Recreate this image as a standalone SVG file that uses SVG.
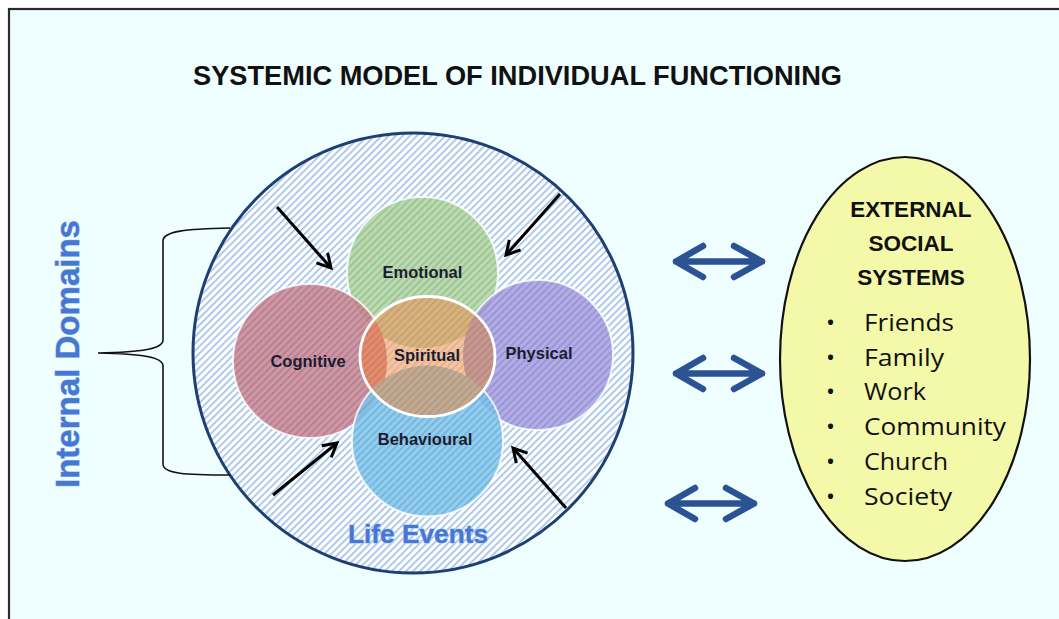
<svg xmlns="http://www.w3.org/2000/svg" width="1059" height="619" viewBox="0 0 1059 619">
  <style>
    .title { font-family: "Liberation Sans", Arial, sans-serif; font-weight: bold; font-size: 28px; fill: #111; }
    .lbl { font-family: "Liberation Sans", Arial, sans-serif; font-weight: bold; font-size: 16.5px; fill: #1c1c30; text-anchor: middle; }
    .blue { font-family: "Liberation Sans", Arial, sans-serif; font-weight: bold; fill: #4677d2; text-anchor: middle; stroke: #9fc0f0; stroke-width: 1px; paint-order: stroke; }
    .head { font-family: "Liberation Sans", Arial, sans-serif; font-weight: bold; font-size: 22.5px; fill: #111; text-anchor: middle; }
    .item { font-family: "Open Sans", "Liberation Sans", sans-serif; font-size: 24px; fill: #111; }
    .dbl { fill: none; stroke: #2b5393; stroke-width: 6.5; stroke-linecap: round; stroke-linejoin: round; }
    .inarrow { fill: none; stroke: #000; stroke-width: 3; marker-end: url(#head); }
    .outer { stroke: #ffffff; stroke-opacity: 0.8; stroke-width: 2; }
  </style>
  <defs>
    <pattern id="bgHatch" width="5" height="5" patternUnits="userSpaceOnUse" patternTransform="rotate(45)">
      <rect width="5" height="5" fill="#ffffff"/>
      <rect width="1.8" height="5" fill="#a6c5ea"/>
    </pattern>
    <pattern id="darkHatch" width="5" height="5" patternUnits="userSpaceOnUse" patternTransform="rotate(45)">
      <rect width="1.6" height="5" fill="#000" fill-opacity="0.1"/>
    </pattern>
    <marker id="head" markerUnits="userSpaceOnUse" markerWidth="22" markerHeight="22" refX="15" refY="9" orient="auto">
      <path d="M1.5,1.5 L15,9 L1.5,16.5" fill="none" stroke="#000" stroke-width="3" stroke-linejoin="miter"/>
    </marker>
    <clipPath id="spClip">
      <ellipse cx="427.5" cy="356.5" rx="67.5" ry="60"/>
    </clipPath>
  </defs>

  <rect x="0" y="0" width="1059" height="619" fill="#ffffff"/>
  <rect id="frame" x="9" y="9" width="1100" height="700" fill="#effefe" stroke="#2b2b2b" stroke-width="2.2"/>

  <g id="title">
    <text class="title" x="193" y="85" textLength="649" lengthAdjust="spacingAndGlyphs">SYSTEMIC MODEL OF INDIVIDUAL FUNCTIONING</text>
  </g>

  <g id="life-events">
    <circle cx="413" cy="353" r="220" fill="url(#bgHatch)" stroke="#1e3f73" stroke-width="3"/>
  </g>

  <g id="domain-circles">
    <g id="emotional">
      <circle cx="422.5" cy="272.5" r="75.5" fill="#b0d6a0" fill-opacity="0.88"/>
      <circle cx="422.5" cy="272.5" r="75.5" fill="url(#darkHatch)" class="outer"/>
    </g>
    <g id="cognitive">
      <circle cx="310" cy="361" r="77" fill="#c98493" fill-opacity="0.85"/>
      <circle cx="310" cy="361" r="77" fill="url(#darkHatch)" class="outer"/>
    </g>
    <g id="physical">
      <circle cx="538" cy="355" r="75" fill="#a69de4" fill-opacity="0.85"/>
      <circle cx="538" cy="355" r="75" fill="url(#darkHatch)" class="outer"/>
    </g>
    <g id="behavioural">
      <circle cx="427.5" cy="441" r="75.5" fill="#7cc6ee" fill-opacity="0.85"/>
      <circle cx="427.5" cy="441" r="75.5" fill="url(#darkHatch)" class="outer"/>
    </g>
    <g id="spiritual">
      <ellipse cx="427.5" cy="356.5" rx="67.5" ry="60" fill="#f6c4a0"/>
      <g clip-path="url(#spClip)">
        <circle cx="422.5" cy="272.5" r="75.5" fill="#d8b27c"/>
        <circle cx="310" cy="361" r="77" fill="#e58a6c"/>
        <circle cx="538" cy="355" r="75" fill="#c8978f"/>
        <circle cx="427.5" cy="441" r="75.5" fill="#c3aa92"/>
      </g>
      <ellipse cx="427.5" cy="356.5" rx="67.5" ry="60" fill="url(#darkHatch)" stroke="#ffffff" stroke-width="2.8"/>
    </g>
    <text class="lbl" x="422.5" y="278">Emotional</text>
    <text class="lbl" x="308" y="367">Cognitive</text>
    <text class="lbl" x="427" y="361">Spiritual</text>
    <text class="lbl" x="539" y="359">Physical</text>
    <text class="lbl" x="425" y="445">Behavioural</text>
  </g>

  <g id="labels">
    <text class="blue" x="418" y="543" font-size="25" textLength="140" lengthAdjust="spacingAndGlyphs">Life Events</text>
    <text class="blue" transform="translate(79,354) rotate(-90)" x="0" y="0" font-size="33" textLength="268" lengthAdjust="spacingAndGlyphs">Internal Domains</text>
  </g>

  <g id="external-systems">
    <ellipse cx="905" cy="359" rx="125" ry="202" fill="#f3f9a9" stroke="#111" stroke-width="2.2"/>
    <text class="head" x="911" y="217">EXTERNAL</text>
    <text class="head" x="911" y="251">SOCIAL</text>
    <text class="head" x="911" y="285">SYSTEMS</text>
    <g class="item">
      <text x="826" y="331">•</text><text x="864" y="331" textLength="90" lengthAdjust="spacingAndGlyphs">Friends</text>
      <text x="826" y="366">•</text><text x="864" y="366" textLength="80" lengthAdjust="spacingAndGlyphs">Family</text>
      <text x="826" y="400">•</text><text x="864" y="400" textLength="62" lengthAdjust="spacingAndGlyphs">Work</text>
      <text x="826" y="435">•</text><text x="864" y="435" textLength="142" lengthAdjust="spacingAndGlyphs">Community</text>
      <text x="826" y="470">•</text><text x="864" y="470" textLength="84" lengthAdjust="spacingAndGlyphs">Church</text>
      <text x="826" y="505">•</text><text x="864" y="505" textLength="88" lengthAdjust="spacingAndGlyphs">Society</text>
    </g>
  </g>

  <g id="connectors">
    <path class="inarrow" d="M277,207 L331,268"/>
    <path class="inarrow" d="M560,194 L506,255"/>
    <path class="inarrow" d="M273,495 L337,443"/>
    <path class="inarrow" d="M566,508 L513,448"/>
    <path class="dbl" d="M703,246 L676,261.5 L703,277 M676,261.5 H762 M734,246 L762,261.5 L734,277"/>
    <path class="dbl" d="M703,358 L676,373.5 L703,389 M676,373.5 H762 M734,358 L762,373.5 L734,389"/>
    <path class="dbl" d="M695,488 L668,503.5 L695,519 M668,503.5 H754 M726,488 L754,503.5 L726,519"/>
    <path d="M230,228 C186,229 163,231 163,241 L163,340 C163,349 142,352 98,353 C142,354 163,357 163,366 L163,464 C163,474 186,475 230,475" fill="none" stroke="#111" stroke-width="1.6"/>
  </g>
</svg>
